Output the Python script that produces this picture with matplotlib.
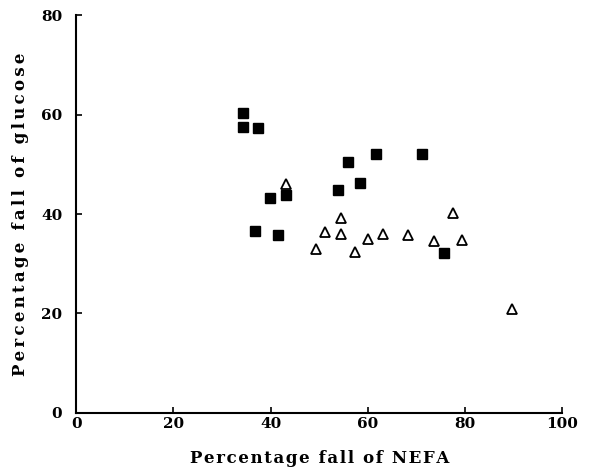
import matplotlib.pyplot as plt

# filled squares
sq_x = [34.4, 34.4, 37.4, 36.8, 39.9, 43.2, 41.6, 53.9, 55.9, 58.4, 61.7, 71.2, 75.6]
sq_y = [60.3, 57.5, 57.3, 36.6, 43.2, 43.8, 35.8, 44.8, 50.5, 46.2, 52.1, 52.1, 32.2]

# open triangles
tr_x = [43.2, 49.4, 51.2, 54.4, 54.4, 57.3, 60.1, 63.2, 68.2, 73.7, 77.6, 79.4, 89.6]
tr_y = [46.0, 32.9, 36.4, 39.2, 35.9, 32.3, 35.0, 35.9, 35.8, 34.6, 40.3, 34.7, 20.8]

x_ticks = [0, 20, 40, 60, 80, 100]
y_ticks = [0, 20, 40, 60, 80]


def spaced(s, gap='\u200a'):
    # old typewriter look: a little air between letters
    return gap.join(s)


plt.rcParams['font.family'] = 'DejaVu Serif'
plt.rcParams['font.weight'] = 'bold'

fig = plt.figure(figsize=(5.95, 4.74), dpi=100)
ax = fig.add_axes([0.128, 0.129, 0.817, 0.839])

ax.plot(sq_x, sq_y, 's', color='black', markersize=7, linestyle='none')
ax.plot(tr_x, tr_y, '^', markerfacecolor='white', markeredgecolor='black',
        markeredgewidth=1.3, markersize=7, linestyle='none')

ax.set_xlim(0, 100)
ax.set_ylim(0, 80)
ax.set_xticks(x_ticks)
ax.set_yticks(y_ticks)
ax.tick_params(direction='in', length=4, width=1.2, labelsize=11)
ax.tick_params(axis='x', pad=3)
ax.tick_params(axis='y', pad=10)

ax.spines['top'].set_visible(False)
ax.spines['right'].set_visible(False)
ax.spines['left'].set_linewidth(1.5)
ax.spines['bottom'].set_linewidth(1.5)

ax.set_xlabel(spaced('Percentage fall of NEFA'), fontsize=12, fontweight='bold', labelpad=14)
ax.set_ylabel(spaced('Percentage fall of glucose', '\u200a\u200a'), fontsize=12,
              fontweight='bold', labelpad=9)

fig.savefig('out.png', dpi=100)
